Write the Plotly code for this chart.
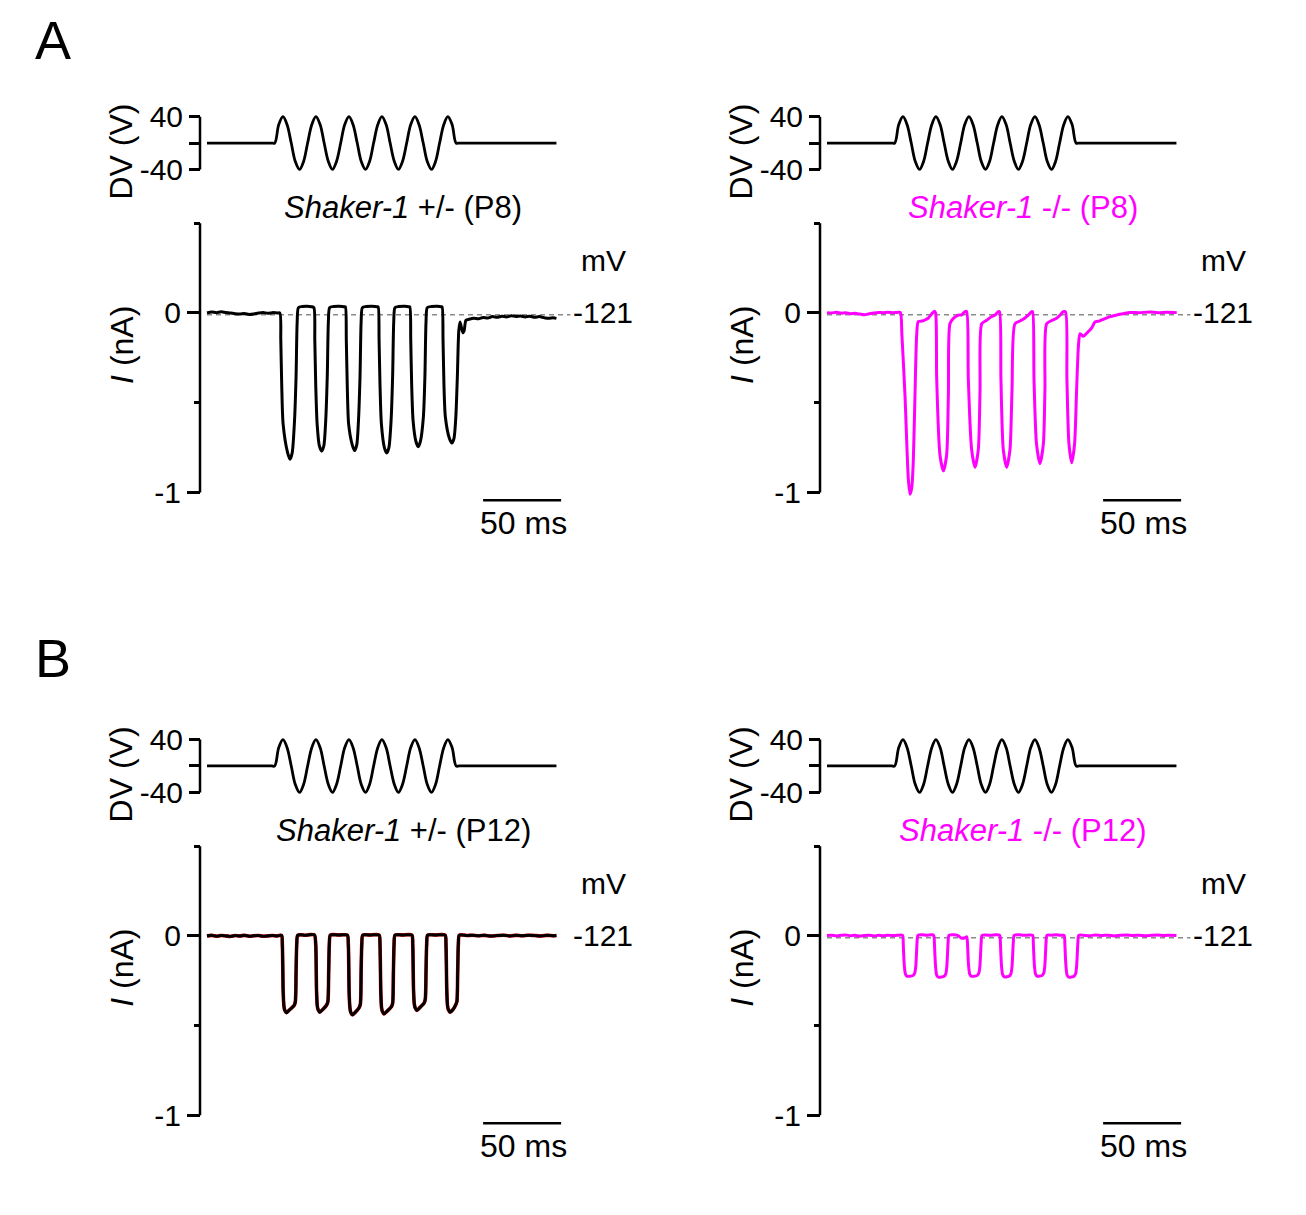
import plotly.graph_objects as go

# ---------------- data ----------------
# Stimulus (DV, volts) vs time (ms) - same in every panel
stim_t = [0, 10, 20, 30, 38, 41.5, 43.4, 46.0, 48.7, 51.3, 54.0, 56.6, 59.3, 61.9,
          64.5, 67.2, 69.8, 72.5, 75.1, 77.8, 80.4, 83.0,
          85.7, 88.3, 91.0, 93.6, 96.3, 98.9, 101.6, 104.2,
          106.8, 109.5, 112.1, 114.8, 117.4, 120.1, 122.7, 125.3,
          128.0, 130.6, 133.3, 135.9, 138.6, 141.2, 143.9, 146.5,
          149.1, 151.8, 154.4, 157.1, 159.7, 161.6, 165, 175, 185, 195, 205, 215, 224]
stim_v = [0, 0, 0, 0, 0, 0, 0, 28, 40, 28, 0, -28, -40, -28,
          0, 28, 40, 28, 0, -28, -40, -28,
          0, 28, 40, 28, 0, -28, -40, -28,
          0, 28, 40, 28, 0, -28, -40, -28,
          0, 28, 40, 28, 0, -28, -40, -28,
          0, 28, 40, 28, 0, 0, 0, 0, 0, 0, 0, 0, 0]

# A, Shaker-1 +/- (P8): current (nA) vs time (ms)
AL_t = [0, 3, 6, 9, 12, 15, 18, 21, 24, 27, 30, 33, 36, 39, 42, 45,
        46.7, 47.3, 47.9, 48.8, 51.7, 53.2, 54.6, 56.1, 57.1, 57.8, 58.6, 61.0, 64.0, 67.0,
        68.5, 69.1, 69.7, 70.6, 72.0, 73.5, 74.9, 76.1, 77.1, 77.8, 78.6, 81.0, 84.5, 88.0,
        88.7, 89.3, 89.9, 90.8, 93.1, 94.6, 96.0, 97.1, 98.1, 98.8, 99.6, 102.0, 105.5, 109.0,
        109.7, 110.3, 110.9, 111.8, 113.7, 115.2, 116.6, 118.0, 119.0, 119.7, 120.5, 123.0, 126.5, 129.3,
        130.0, 130.6, 131.2, 132.1, 133.9, 135.4, 136.8, 138.7, 139.7, 140.4, 141.2, 144.0, 147.5, 150.1,
        150.7, 151.3, 151.9, 152.8, 155.4, 156.9, 158.3, 159.5, 160.5, 161.4, 162.2, 164.0, 164.8, 166.0, 168.0,
        171, 174, 177, 180, 183, 186, 189, 192, 195, 198, 201, 204, 207, 210, 213, 216, 219, 222, 224]
AL_i = [0.0, 0.006, 0.002, 0.007, 0.003, 0.0, -0.004, -0.006, -0.003, -0.008, -0.005, 0.0, 0.003, -0.002, 0.002, 0.0,
        0.0, -0.15, -0.40, -0.62, -0.78, -0.815, -0.78, -0.60, -0.35, -0.05, 0.03, 0.036, 0.038, 0.035,
        0.03, -0.15, -0.40, -0.62, -0.74, -0.77, -0.74, -0.60, -0.35, -0.05, 0.03, 0.036, 0.038, 0.035,
        0.035, -0.15, -0.40, -0.62, -0.735, -0.767, -0.735, -0.60, -0.35, -0.05, 0.03, 0.036, 0.038, 0.035,
        0.035, -0.15, -0.40, -0.62, -0.75, -0.78, -0.75, -0.60, -0.35, -0.05, 0.03, 0.036, 0.038, 0.035,
        0.035, -0.15, -0.40, -0.60, -0.715, -0.745, -0.715, -0.58, -0.35, -0.05, 0.03, 0.036, 0.038, 0.035,
        0.035, -0.15, -0.40, -0.58, -0.70, -0.725, -0.70, -0.58, -0.35, -0.10, -0.05, -0.11, -0.10, -0.04, -0.035,
        -0.03, -0.032, -0.025, -0.028, -0.02, -0.024, -0.018, -0.022, -0.015, -0.02, -0.017, -0.022, -0.018,
        -0.024, -0.02, -0.026, -0.03, -0.027, -0.03]

# A, Shaker-1 -/- (P8)
AR_t = [0, 3, 6, 9, 12, 15, 18, 21, 24, 27, 30, 33, 36, 39, 42, 45,
        47.0, 48.0, 50.0, 52.1, 53.2, 54.3, 55.3, 56.4, 57.5, 58.5, 60.9, 62.8, 65.0, 67.1, 68.8,
        69.6, 70.3, 72.4, 74.6, 76.7, 77.8, 78.8, 81.0, 84.2, 86.3, 88.5,
        89.5, 90.6, 92.7, 94.9, 97.0, 98.1, 99.2, 102.4, 105.6, 107.7, 109.8,
        110.6, 111.5, 113.0, 115.2, 117.3, 118.6, 120.5, 123.7, 126.9, 129.0, 131.2,
        131.8, 132.7, 134.3, 136.5, 138.7, 139.7, 140.8, 144.0, 147.2, 149.4, 151.5,
        152.9, 153.8, 155.1, 156.9, 158.7, 160.0, 161.2, 162.2, 164.3, 166.5, 169.7, 171.8, 174.5,
        177.1, 181.0, 185.7, 190.0, 194.2, 200, 207, 212, 218, 224.2]
AR_i = [0.002, 0.0, 0.004, -0.002, 0.002, -0.004, -0.002, -0.006, -0.01, -0.004, 0.0, 0.003, 0.002, 0.004, 0.002, 0.003,
        0.003, -0.12, -0.46, -0.92, -1.01, -0.975, -0.83, -0.46, -0.12, -0.048, -0.045, -0.039, -0.028, -0.005, 0.01,
        0.0, -0.36, -0.79, -0.88, -0.79, -0.46, -0.06, -0.03, -0.012, -0.01, 0.008,
        0.008, -0.37, -0.76, -0.86, -0.76, -0.43, -0.06, -0.04, -0.02, -0.011, 0.007,
        0.007, -0.37, -0.76, -0.86, -0.76, -0.43, -0.06, -0.045, -0.028, -0.012, 0.007,
        0.007, -0.37, -0.73, -0.84, -0.73, -0.43, -0.06, -0.042, -0.03, -0.012, 0.007,
        0.007, -0.37, -0.73, -0.835, -0.73, -0.43, -0.18, -0.115, -0.13, -0.113, -0.083, -0.05, -0.045,
        -0.035, -0.022, -0.011, -0.004, 0.003, 0.002, 0.005, 0.002, 0.004, 0.002]

# B, Shaker-1 +/- (P12)
BL_t = [0, 3, 6, 9, 12, 15, 18, 21, 24, 27, 30, 33, 36, 39, 42, 45,
        47.8, 48.3, 48.8, 49.3, 49.8, 50.9, 52.8, 55.8, 56.6, 57.1, 57.5, 58.1, 60.0, 63.0, 66.0, 68.9,
        69.7, 70.2, 70.7, 71.2, 72.3, 74.2, 76.7, 77.5, 78.0, 78.4, 79.0, 81.0, 84.0, 87.0, 90.0,
        90.6, 91.1, 91.6, 92.1, 93.2, 95.1, 97.5, 98.3, 98.8, 99.2, 99.8, 102.0, 105.0, 108.0, 110.4,
        110.9, 111.4, 111.9, 112.4, 113.5, 115.4, 118.2, 119.0, 119.5, 119.9, 120.5, 123.0, 126.0, 129.0, 131.4,
        131.9, 132.4, 132.9, 133.4, 134.5, 136.4, 139.1, 139.9, 140.4, 140.8, 141.4, 144.0, 147.0, 150.0, 152.7,
        153.2, 153.7, 154.2, 154.7, 155.8, 157.7, 159.4, 160.2, 160.7, 161.1, 161.7,
        164, 167, 170, 174, 178, 182, 186, 190, 194, 198, 202, 206, 210, 214, 218, 222, 224]
BL_i = [0.0, 0.003, -0.002, 0.002, 0.0, -0.003, 0.002, 0.0, 0.003, -0.002, 0.001, 0.002, -0.002, 0.0, 0.002, 0.0,
        0.003, -0.05, -0.30, -0.39, -0.413, -0.428, -0.413, -0.388, -0.368, -0.2, -0.05, 0.003, 0.006, 0.004, 0.007, 0.005,
        -0.05, -0.30, -0.39, -0.41, -0.425, -0.41, -0.385, -0.365, -0.2, -0.05, 0.004, 0.007, 0.005, 0.006, 0.004,
        -0.05, -0.31, -0.40, -0.425, -0.44, -0.425, -0.40, -0.38, -0.2, -0.05, 0.004, 0.006, 0.005, 0.007, 0.004,
        -0.05, -0.31, -0.40, -0.42, -0.435, -0.42, -0.395, -0.375, -0.2, -0.05, 0.004, 0.006, 0.005, 0.007, 0.004,
        -0.05, -0.30, -0.38, -0.40, -0.415, -0.40, -0.375, -0.355, -0.2, -0.05, 0.004, 0.006, 0.005, 0.007, 0.004,
        -0.05, -0.30, -0.39, -0.41, -0.425, -0.41, -0.385, -0.365, -0.2, -0.05, 0.004,
        0.005, 0.002, 0.004, 0.001, 0.003, -0.001, 0.002, 0.004, 0.0, 0.003, 0.001, 0.004, 0.002, 0.0, 0.003, 0.001, 0.002]

# B, Shaker-1 -/- (P12)
BR_t = [0, 3, 6, 9, 12, 15, 18, 21, 24, 27, 30, 33, 36, 39, 42, 45,
        48.4, 48.9, 49.2, 49.6, 50.3, 51.4, 55.3, 56.3, 56.9, 57.3, 57.7, 58.3, 61, 64, 67,
        68.4, 68.9, 69.2, 69.6, 70.3, 71.4, 75.2, 76.2, 76.8, 77.2, 77.6, 78.2, 81, 84, 86, 88.5,
        89.6, 90.1, 90.4, 90.8, 91.5, 92.6, 96.4, 97.4, 98.0, 98.4, 98.8, 99.4, 102, 105, 108.5,
        110.7, 111.2, 111.5, 111.9, 112.6, 113.7, 117.0, 118.0, 118.6, 119.0, 119.4, 120.0, 123, 126, 129.5,
        131.8, 132.3, 132.6, 133.0, 133.7, 134.8, 138.0, 139.0, 139.6, 140.0, 140.4, 141.0, 144, 147, 150.5,
        152.0, 152.5, 152.8, 153.2, 153.9, 155.0, 158.4, 159.4, 160.0, 160.4, 160.8, 161.4,
        164, 168, 172, 176, 180, 184, 188, 192, 196, 200, 204, 208, 212, 216, 220, 224]
BR_i = [0.002, 0.004, 0.0, 0.003, 0.005, 0.001, 0.003, -0.002, 0.002, 0.004, 0.0, 0.003, 0.001, 0.004, 0.002, 0.003,
        0.003, -0.05, -0.11, -0.17, -0.213, -0.225, -0.22, -0.205, -0.17, -0.11, -0.04, 0.003, 0.006, 0.004, 0.006,
        0.003, -0.05, -0.11, -0.17, -0.218, -0.23, -0.225, -0.21, -0.17, -0.11, -0.04, 0.003, 0.006, 0.002, -0.012, -0.01,
        -0.005, -0.05, -0.11, -0.17, -0.213, -0.225, -0.22, -0.205, -0.17, -0.11, -0.04, 0.003, 0.005, 0.003, 0.006,
        0.003, -0.05, -0.11, -0.17, -0.216, -0.228, -0.223, -0.208, -0.17, -0.11, -0.04, 0.003, 0.006, 0.003, 0.005,
        0.003, -0.05, -0.11, -0.17, -0.213, -0.225, -0.22, -0.205, -0.17, -0.11, -0.04, 0.003, 0.004, 0.006, 0.003,
        0.003, -0.05, -0.11, -0.17, -0.218, -0.23, -0.225, -0.21, -0.17, -0.11, -0.04, 0.003,
        0.004, 0.001, 0.005, 0.002, 0.004, 0.0, 0.003, 0.005, 0.002, 0.004, 0.001, 0.003, 0.005, 0.002, 0.004, 0.002]

stim_ticks = [40, 0, -40]
stim_ticktext = ["40", "", "-40"]
cur_ticks = [0, -1]
cur_ticktext = ["0", "-1"]
cur_minor_ticks = [0.5, -0.5]
holding_label = "-121"
scale_bar_ms = [177, 227]

panel_titles = ["<i>Shaker-1</i> +/- (P8)", "<i>Shaker-1</i> -/- (P8)",
                "<i>Shaker-1</i> +/- (P12)", "<i>Shaker-1</i> -/- (P12)"]

# ---------------- layout helpers ----------------
PAGE_W, PAGE_H = 1306, 1215
OFF = 8                       # default body margin of the html page
W, H = PAGE_W - 2 * OFF, PAGE_H - 2 * OFF
FONT = "Liberation Sans, Arial, sans-serif"
MAGENTA = "#FF00FF"


def px(x):
    return (x - OFF) / W


def py(y):
    return 1 - (y - OFF) / H


T0_PX, PX_PER_MS = 207, 1.56
XL_PX, XR_PX = 195, 600
x_range = [(XL_PX - T0_PX) / PX_PER_MS, (XR_PX - T0_PX) / PX_PER_MS]

# stimulus axis: 0 V at y=141.5 px, 0.6625 px per V
S_ZERO, S_SCALE, S_TOP, S_BOT = 141.5, 0.6625, 100, 183
s_range = [(S_ZERO - S_BOT) / S_SCALE, (S_ZERO - S_TOP) / S_SCALE]
# current axis: 0 nA at y=312 px, 180 px per nA
C_ZERO, C_SCALE, C_TOP, C_BOT = 312, 180, 210, 515
c_range = [(C_ZERO - C_BOT) / C_SCALE, (C_ZERO - C_TOP) / C_SCALE]

panels = [
    dict(dx=0, dy=0, t=AL_t, i=AL_i, color="black", tcolor="black", dashed=True, under=None),
    dict(dx=620, dy=0, t=AR_t, i=AR_i, color=MAGENTA, tcolor=MAGENTA, dashed=True, under=None),
    dict(dx=0, dy=625, t=BL_t, i=BL_i, color="black", tcolor="black", dashed=False, under="#e00000"),
    dict(dx=620, dy=625, t=BR_t, i=BR_i, color=MAGENTA, tcolor=MAGENTA, dashed=True, under=None),
]

fig = go.Figure()
layout = {}
shapes = []
annotations = []


def ax_name(kind, n):
    return kind if n == 1 else f"{kind}{n}"


def ann(text, x, y, size=30, color="black", xanchor="center", angle=0):
    annotations.append(dict(text=text, x=px(x), y=py(y), xref="paper", yref="paper",
                            showarrow=False, xanchor=xanchor, yanchor="middle", textangle=angle,
                            font=dict(family=FONT, size=size, color=color)))


for k, p in enumerate(panels):
    dx, dy = p["dx"], p["dy"]
    sid, cid = 2 * k + 1, 2 * k + 2
    xs, ys = ax_name("x", sid), ax_name("y", sid)
    xc, yc = ax_name("x", cid), ax_name("y", cid)
    xdom = [px(XL_PX + dx), px(XR_PX + dx)]
    axis_pos = px(200 + dx)

    layout[ax_name("xaxis", sid)] = dict(domain=xdom, range=x_range, visible=False, anchor=ys)
    layout[ax_name("xaxis", cid)] = dict(domain=xdom, range=x_range, visible=False, anchor=yc)
    layout[ax_name("yaxis", sid)] = dict(
        domain=[py(S_BOT + dy), py(S_TOP + dy)], range=s_range, anchor="free", position=axis_pos,
        showline=False, showgrid=False, zeroline=False,
        tickmode="array", tickvals=stim_ticks, ticktext=stim_ticktext,
        ticks="outside", ticklen=11, tickwidth=2.5, tickcolor="black",
        tickfont=dict(family=FONT, size=30, color="black"))
    layout[ax_name("yaxis", cid)] = dict(
        domain=[py(C_BOT + dy), py(C_TOP + dy)], range=c_range, anchor="free", position=axis_pos,
        showline=False, showgrid=False, zeroline=False,
        tickmode="array", tickvals=cur_ticks, ticktext=cur_ticktext,
        ticks="outside", ticklen=13, tickwidth=2.5, tickcolor="black",
        minor=dict(tickmode="array", tickvals=cur_minor_ticks, ticks="outside",
                   ticklen=6, tickwidth=2.5, tickcolor="black", showgrid=False),
        tickfont=dict(family=FONT, size=30, color="black"))

    # axis lines (only over the labelled span)
    shapes.append(dict(type="line", xref="paper", yref=ys, x0=axis_pos, x1=axis_pos,
                       y0=min(stim_ticks), y1=max(stim_ticks), line=dict(color="black", width=2.5)))
    shapes.append(dict(type="line", xref="paper", yref=yc, x0=axis_pos, x1=axis_pos,
                       y0=min(cur_ticks), y1=max(cur_minor_ticks), line=dict(color="black", width=2.5)))
    # 50 ms scale bar
    shapes.append(dict(type="line", xref=xc, yref=yc, x0=scale_bar_ms[0], x1=scale_bar_ms[1],
                       y0=-1.044, y1=-1.044, line=dict(color="black", width=2.5)))

    # traces
    fig.add_trace(go.Scatter(x=stim_t, y=stim_v, xaxis=xs, yaxis=ys, mode="lines",
                             line=dict(color="black", width=2.8, shape="spline", smoothing=1.0),
                             showlegend=False, hoverinfo="skip"))
    if p["dashed"]:
        fig.add_trace(go.Scatter(x=[0, 233], y=[-0.01, -0.01], xaxis=xc, yaxis=yc, mode="lines",
                                 line=dict(color="#8a8a8a", width=1.6, dash="5px,4px"),
                                 showlegend=False, hoverinfo="skip"))
    if p["under"]:
        fig.add_trace(go.Scatter(x=p["t"], y=p["i"], xaxis=xc, yaxis=yc, mode="lines",
                                 line=dict(color=p["under"], width=3.6, shape="spline", smoothing=0.7),
                                 showlegend=False, hoverinfo="skip"))
    fig.add_trace(go.Scatter(x=p["t"], y=p["i"], xaxis=xc, yaxis=yc, mode="lines",
                             line=dict(color=p["color"], width=3.0, shape="spline", smoothing=0.7),
                             showlegend=False, hoverinfo="skip"))

    # texts
    ann("DV (V)", 121 + dx, 150 + dy, size=32, angle=-90)
    ann("<i>I</i> (nA)", 122 + dx, 344 + dy, size=32, angle=-90)
    ann(panel_titles[k], 403 + dx, 206 + dy, size=31, color=p["tcolor"])
    ann("mV", 628 + dx, 259 + dy, xanchor="right")
    ann(holding_label, 571 + dx, 312 + dy, xanchor="left")
    ann("50 ms", 523 + dx, 523 + dy, size=32)

for letter, y in (("A", 38), ("B", 658)):
    ann(letter, 53, y, size=54)

fig.update_layout(
    width=W, height=H, margin=dict(l=0, r=0, t=0, b=0),
    paper_bgcolor="white", plot_bgcolor="rgba(0,0,0,0)",
    font=dict(family=FONT, size=30, color="black"),
    shapes=shapes, annotations=annotations, showlegend=False,
    **layout)

fig.write_html("out.html")
